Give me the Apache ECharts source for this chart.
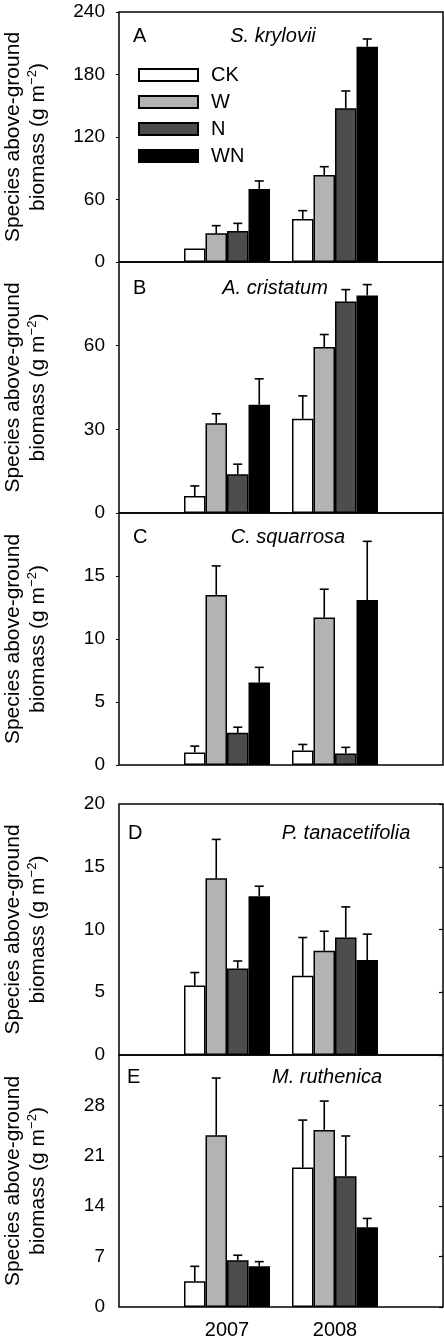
<!DOCTYPE html>
<html>
<head>
<meta charset="utf-8">
<script src="https://cdn.jsdelivr.net/npm/echarts@6/dist/echarts.min.js"></script>
<style>
html,body{margin:0;padding:0;background:#fff;}
#chart{width:444px;height:1342px;}
</style>
</head>
<body>
<div id="chart"></div>
<script>
// ---- Data ----
const categories = ['', '2007', '2008', ''];
const treatments = ['CK', 'W', 'N', 'WN'];
const panelLetters = ['A', 'B', 'C', 'D', 'E'];
const speciesNames = ['S. krylovii', 'A. cristatum', 'C. squarrosa', 'P. tanacetifolia', 'M. ruthenica'];
const yMax = [240, 90, 20, 20, 35];
const yInterval = [60, 30, 5, 5, 7];
const showTopLabel = [true, false, false, true, false];

// rows: CK, W, N, WN ; columns: 2007, 2008
const meanA = [[13, 41.3], [27.5, 83.5], [29.8, 147.5], [70, 206.7]];
const seA   = [[0, 8], [7.4, 8], [7.3, 16.7], [7.8, 7.4]];
const meanB = [[6.1, 33.8], [32.2, 59.5], [13.9, 75.8], [38.8, 78.0]];
const seB   = [[3.6, 8.2], [3.4, 4.5], [3.6, 4.3], [9.3, 3.9]];
const meanC = [[1.0, 1.16], [13.5, 11.7], [2.55, 0.92], [6.55, 13.1]];
const seC   = [[0.5, 0.47], [2.3, 2.25], [0.45, 0.48], [1.2, 4.65]];
const meanD = [[5.54, 6.31], [14.08, 8.3], [6.89, 9.36], [12.65, 7.56]];
const seD   = [[1.03, 3.05], [3.1, 1.56], [0.6, 2.44], [0.8, 2.07]];
const meanE = [[3.57, 19.36], [23.85, 24.6], [6.49, 18.15], [5.65, 11.07]];
const seE   = [[2.08, 6.6], [7.95, 4.0], [0.7, 5.6], [0.65, 1.23]];

const panelMeans = [meanA, meanB, meanC, meanD, meanE];
const panelSE = [seA, seB, seC, seD, seE];

// ---- Style ----
const FONT = '"Liberation Sans", Arial, Helvetica, sans-serif';
const colors = ['#ffffff', '#b3b3b3', '#4d4d4d', '#000000'];
const BAR_W = 21.5;
const gridTops = [12, 262, 513, 804, 1055];
const gridHeights = [250, 251, 252, 251, 252];

const chart = echarts.init(document.getElementById('chart'), null, {renderer: 'canvas'});

const grids = [], xAxes = [], yAxes = [], series = [], graphics = [];

for (let p = 0; p < 5; p++) {
  grids.push({
    left: 119, right: 1, top: gridTops[p], height: gridHeights[p],
    containLabel: false, outerBoundsMode: 'none',
    show: true, borderColor: '#000', borderWidth: 1.5, backgroundColor: 'transparent'
  });
  xAxes.push({
    type: 'category', gridIndex: p, data: categories, boundaryGap: false,
    axisLine: {show: false}, axisTick: {show: false}, splitLine: {show: false},
    axisLabel: {show: p === 4, interval: 0, fontSize: 20, fontFamily: FONT, color: '#000', margin: 13}
  });
  yAxes.push({
    type: 'value', gridIndex: p, min: 0, max: yMax[p], interval: yInterval[p],
    axisLine: {show: false}, splitLine: {show: false},
    axisTick: {show: p < 3, length: 3, lineStyle: {color: '#000', width: 1}},
    axisLabel: {fontSize: 19, fontFamily: FONT, color: '#000', margin: 14, showMaxLabel: showTopLabel[p]},
    name: 'Species above-ground\nbiomass (g m{sup|−2})',
    nameLocation: 'middle', nameGap: 68,
    nameTextStyle: {
      fontSize: 21, fontFamily: FONT, color: '#000', lineHeight: 25,
      rich: {sup: {fontSize: 13, fontFamily: FONT, color: '#000', verticalAlign: 'top', lineHeight: 25}}
    }
  });
}
// right-side inner ticks for panels D and E
[3, 4].forEach(p => {
  yAxes.push({
    type: 'value', gridIndex: p, position: 'right', min: 0, max: yMax[p], interval: yInterval[p],
    axisLine: {show: false}, splitLine: {show: false}, axisLabel: {show: false},
    axisTick: {show: true, inside: true, length: 4, lineStyle: {color: '#000', width: 1.2}}
  });
});

for (let p = 0; p < 5; p++) {
  const means = panelMeans[p], ses = panelSE[p];
  for (let t = 0; t < 4; t++) {
    series.push({
      type: 'bar', name: treatments[t], xAxisIndex: p, yAxisIndex: p,
      data: ['-', means[t][0], means[t][1], '-'],
      barWidth: BAR_W, barGap: '0%',
      itemStyle: {color: colors[t], borderColor: '#000', borderWidth: 1.5},
      emphasis: {disabled: true}, z: 2
    });
  }
  const errData = [];
  for (let t = 0; t < 4; t++) {
    for (let y = 0; y < 2; y++) {
      errData.push([y + 1, means[t][y], ses[t][y], t]);
    }
  }
  series.push({
    type: 'custom', name: 'err' + p, xAxisIndex: p, yAxisIndex: p, z: 5,
    data: errData,
    renderItem: function (params, api) {
      const cat = api.value(0), m = api.value(1), se = api.value(2), t = api.value(3);
      if (!se) return null;
      const b = api.coord([cat, m]);
      const tp = api.coord([cat, m + se]);
      const x = b[0] + (t - 1.5) * BAR_W;
      const st = {stroke: '#000', lineWidth: 1.6};
      return {
        type: 'group',
        children: [
          {type: 'line', shape: {x1: x, y1: b[1], x2: x, y2: tp[1]}, style: st},
          {type: 'line', shape: {x1: x - 4.5, y1: tp[1], x2: x + 4.5, y2: tp[1]}, style: st}
        ]
      };
    }
  });
}

// panel letters and species names
const letterPos = [[133, 36], [133, 288], [133, 537], [128, 833], [127, 1077]];
const speciesPos = [[273, 36], [275, 288], [288, 537], [346, 833], [327, 1077]];
for (let p = 0; p < 5; p++) {
  graphics.push({
    type: 'text', x: letterPos[p][0], y: letterPos[p][1], z: 10,
    style: {text: panelLetters[p], font: '20px ' + FONT, fill: '#000', textAlign: 'left', textVerticalAlign: 'middle'}
  });
  graphics.push({
    type: 'text', x: speciesPos[p][0], y: speciesPos[p][1], z: 10,
    style: {text: speciesNames[p], font: 'italic 20px ' + FONT, fill: '#000', textAlign: 'center', textVerticalAlign: 'middle'}
  });
}

chart.setOption({
  animation: false,
  backgroundColor: '#fff',
  grid: grids,
  xAxis: xAxes,
  yAxis: yAxes,
  legend: {
    data: treatments, orient: 'vertical', left: 138, top: 65, padding: 0,
    itemWidth: 59, itemHeight: 12, itemGap: 7, icon: 'rect', selectedMode: false,
    textStyle: {fontSize: 20, fontFamily: FONT, color: '#000', padding: [0, 0, 0, 8]}
  },
  graphic: graphics,
  series: series
});
</script>
</body>
</html>
